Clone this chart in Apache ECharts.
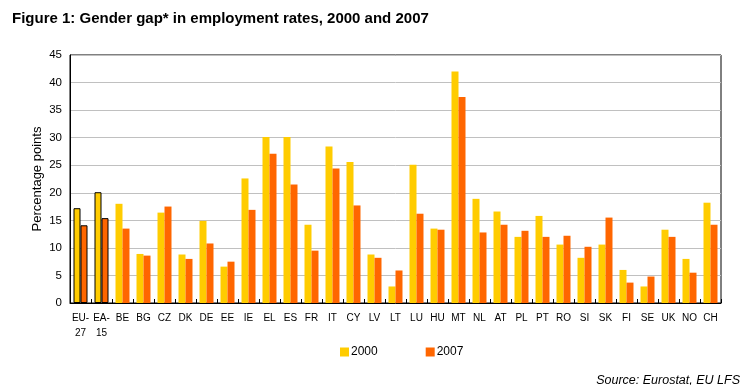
<!DOCTYPE html>
<html>
<head>
<meta charset="utf-8">
<script src="https://cdn.jsdelivr.net/npm/echarts@6/dist/echarts.min.js"></script>
<style>
html,body{margin:0;padding:0;background:#fff;}
#chart{width:749px;height:385px;}
</style>
</head>
<body>
<div id="chart"></div>
<script>
var categories = ['EU-\n27','EA-\n15','BE','BG','CZ','DK','DE','EE','IE','EL','ES','FR','IT','CY','LV','LT','LU','HU','MT','NL','AT','PL','PT','RO','SI','SK','FI','SE','UK','NO','CH'];
var values2000 = [17.2,20.1,18.0,8.9,16.4,8.8,14.9,6.6,22.6,30.1,30.1,14.2,28.4,25.6,8.8,3.0,25.1,13.5,42.0,18.9,16.6,12.0,15.8,10.6,8.2,10.6,6.0,3.0,13.3,8.0,18.2];
var values2007 = [14.1,15.4,13.5,8.6,17.5,8.0,10.8,7.5,16.9,27.1,21.5,9.5,24.4,17.7,8.2,5.9,16.2,13.3,37.4,12.8,14.2,13.1,12.0,12.2,10.2,15.5,3.7,4.8,12.0,5.5,14.2];
var yTicks = [0,5,10,15,20,25,30,35,40,45];
var aggregates = ['EU-\n27','EA-\n15'];

function mk(vals){
  return vals.map(function(v,i){
    if (aggregates.indexOf(categories[i]) >= 0) {
      return {value:v, itemStyle:{borderColor:'#000', borderWidth:1}};
    }
    return v;
  });
}

var chart = echarts.init(document.getElementById('chart'), null, {renderer:'canvas'});
chart.setOption({
  animation:false,
  backgroundColor:'#fff',
  title:[
    {text:'Figure 1: Gender gap* in employment rates, 2000 and 2007', left:7, top:6,
     textStyle:{fontFamily:'Liberation Sans, Arial, sans-serif', fontSize:15, fontWeight:'bold', color:'#000'}},
    {text:'Source: Eurostat, EU LFS', right:4, top:369,
     textStyle:{fontFamily:'Liberation Sans, Arial, sans-serif', fontSize:12.5, fontWeight:'normal', fontStyle:'italic', color:'#000'}}
  ],
  legend:{
    left:335, top:341, itemWidth:9, itemHeight:9, itemGap:48,
    icon:'rect',
    textStyle:{fontFamily:'Liberation Sans, Arial, sans-serif', fontSize:12, color:'#000', padding:[0,0,0,-3]},
    itemStyle:{borderWidth:0},
    data:['2000','2007']
  },
  grid:{left:70, right:28, top:55, bottom:82, show:true, borderColor:'#000', borderWidth:1, containLabel:false},
  xAxis:{
    type:'category', data:categories, boundaryGap:true,
    axisLine:{lineStyle:{color:'#000', width:1}},
    axisTick:{show:true, inside:true, length:4, lineStyle:{color:'#000'}},
    axisLabel:{interval:0, fontFamily:'Liberation Sans, Arial, sans-serif', fontSize:10, color:'#000', margin:8, lineHeight:15}
  },
  yAxis:{
    type:'value', min:0, max:45, interval:5,
    name:'Percentage points', nameLocation:'middle', nameGap:26, nameRotate:90, nameMoveOverlap:false,
    nameTextStyle:{fontFamily:'Liberation Sans, Arial, sans-serif', fontSize:13, color:'#000'},
    axisLine:{show:true, lineStyle:{color:'#000', width:1}},
    axisTick:{show:false},
    axisLabel:{fontFamily:'Liberation Sans, Arial, sans-serif', fontSize:11.5, color:'#000', margin:8,
      formatter:function(v){return yTicks.indexOf(v)>=0 ? String(v) : '';}},
    splitLine:{show:true, lineStyle:{color:'#c0c0c0', width:1}}
  },
  series:[
    {name:'2000', type:'bar', data:mk(values2000), barWidth:7, barGap:'0%', itemStyle:{color:'#FFCC00'}},
    {name:'2007', type:'bar', data:mk(values2007), barWidth:7, barGap:'0%', itemStyle:{color:'#FF6600'}}
  ]
});
</script>
</body>
</html>
